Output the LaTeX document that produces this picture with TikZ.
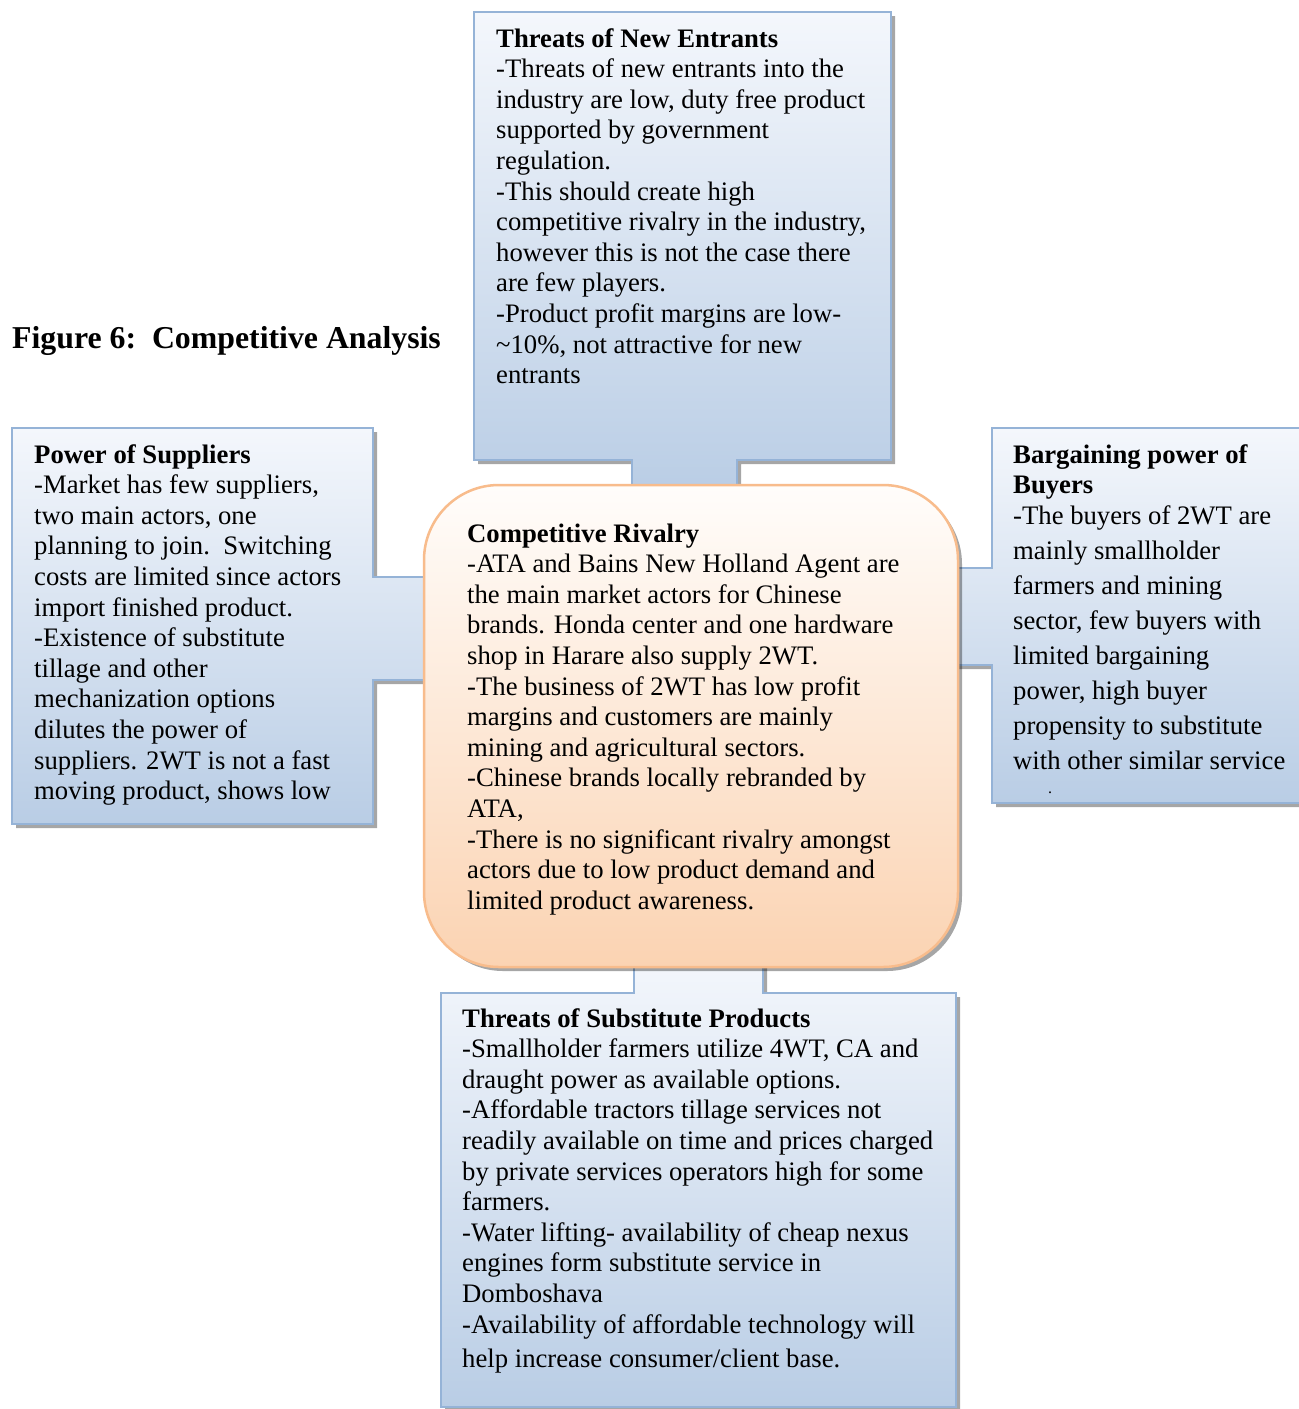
\documentclass[tikz,border=0pt]{standalone}
\usepackage{fontspec}
\setmainfont{Liberation Serif}
\usetikzlibrary{shadows}
\definecolor{bxtop}{HTML}{F4F7FC}
\definecolor{bxbot}{HTML}{B9CDE5}
\definecolor{bxline}{HTML}{95B3D7}
\definecolor{ctop}{HTML}{FFFDFB}
\definecolor{cbot}{HTML}{FBD3B2}
\definecolor{cline}{HTML}{F8BC8C}
\tikzset{
  myshadow/.style={drop shadow={shadow xshift=4pt, shadow yshift=-4pt, fill=black, opacity=0.35}},
  bluebox/.style={draw=bxline, line width=2pt, top color=bxtop, bottom color=bxbot, myshadow},
  centerbox/.style={draw=cline, line width=2.5pt, top color=ctop, bottom color=cbot, rounded corners=75pt, myshadow},
  boxtext/.style={anchor=base west, inner sep=0pt, font=\fontsize{26.7}{30.6}\selectfont},
  titletext/.style={anchor=base west, inner sep=0pt, font=\fontsize{31.8}{37}\selectfont\bfseries},
}
\begin{document}
\begin{tikzpicture}[x=1pt, y=-1pt]
\clip (0,0) rectangle (1299,1409);
\fill[white] (0,0) rectangle (1299,1409);

% top box with tab
\path[bluebox] (474,12) -- (891,12) -- (891,460) -- (737,460) -- (737,495) -- (632,495) -- (632,460) -- (474,460) -- cycle;
% left box with tab
\path[bluebox] (12,428) -- (373,428) -- (373,577) -- (432,577) -- (432,680) -- (373,680) -- (373,824) -- (12,824) -- cycle;
% right box with tab
\path[bluebox] (992,428) -- (1320,428) -- (1320,803) -- (992,803) -- (992,665) -- (950,665) -- (950,568) -- (992,568) -- cycle;
% bottom box with tab
\path[bluebox] (441,993) -- (634,993) -- (634,955) -- (763,955) -- (763,993) -- (956,993) -- (956,1407) -- (441,1407) -- cycle;
% center rounded box
\path[centerbox] (424,485) rectangle (958,967);

\node[titletext] (title) at (12,348) {Figure 6:\ \ Competitive Analysis};

\node[boxtext] (entrants) at (496,47) {\begin{tabular}[t]{@{}l@{}}
\textbf{Threats of New Entrants}\\
-Threats of new entrants into the\\
industry are low, duty free product\\
supported by government\\
regulation.\\
-This should create high\\
competitive rivalry in the industry,\\
however this is not the case there\\
are few players.\\
-Product profit margins are low-\\
\textasciitilde10\%, not attractive for new\\
entrants
\end{tabular}};

\node[boxtext] (suppliers) at (34,463) {\begin{tabular}[t]{@{}l@{}}
\textbf{Power of Suppliers}\\
-Market has few suppliers,\\
two main actors, one\\
planning to join.\ \ Switching\\
costs are limited since actors\\
import finished product.\\
-Existence of substitute\\
tillage and other\\
mechanization options\\
dilutes the power of\\
suppliers. 2WT is not a fast\\
moving product, shows low
\end{tabular}};

\node[boxtext] (buyers) at (1013,463) {\begin{tabular}[t]{@{}l@{}}
\textbf{Bargaining power of}\\
\textbf{Buyers}\\
-The buyers of 2WT are\\[4.4pt]
mainly smallholder\\[4.4pt]
farmers and mining\\[4.4pt]
sector, few buyers with\\[4.4pt]
limited bargaining\\[4.4pt]
power, high buyer\\[4.4pt]
propensity to substitute\\[4.4pt]
with other similar service
\end{tabular}};
\node[anchor=base west, inner sep=0pt, font=\fontsize{16}{18}\selectfont] (dot) at (1048,793) {.};

\node[boxtext] (rivalry) at (467,542) {\begin{tabular}[t]{@{}l@{}}
\textbf{Competitive Rivalry}\\
-ATA and Bains New Holland Agent are\\
the main market actors for Chinese\\
brands. Honda center and one hardware\\
shop in Harare also supply 2WT.\\
-The business of 2WT has low profit\\
margins and customers are mainly\\
mining and agricultural sectors.\\
-Chinese brands locally rebranded by\\
ATA,\\
-There is no significant rivalry amongst\\
actors due to low product demand and\\
limited product awareness.
\end{tabular}};

\node[boxtext] (substitutes) at (462,1027) {\begin{tabular}[t]{@{}l@{}}
\textbf{Threats of Substitute Products}\\
-Smallholder farmers utilize 4WT, CA and\\
draught power as available options.\\
-Affordable tractors tillage services not\\
readily available on time and prices charged\\
by private services operators high for some\\
farmers.\\
-Water lifting- availability of cheap nexus\\
engines form substitute service in\\
Domboshava\\
-Availability of affordable technology will\\[3.4pt]
help increase consumer/client base.
\end{tabular}};
\end{tikzpicture}
\end{document}
